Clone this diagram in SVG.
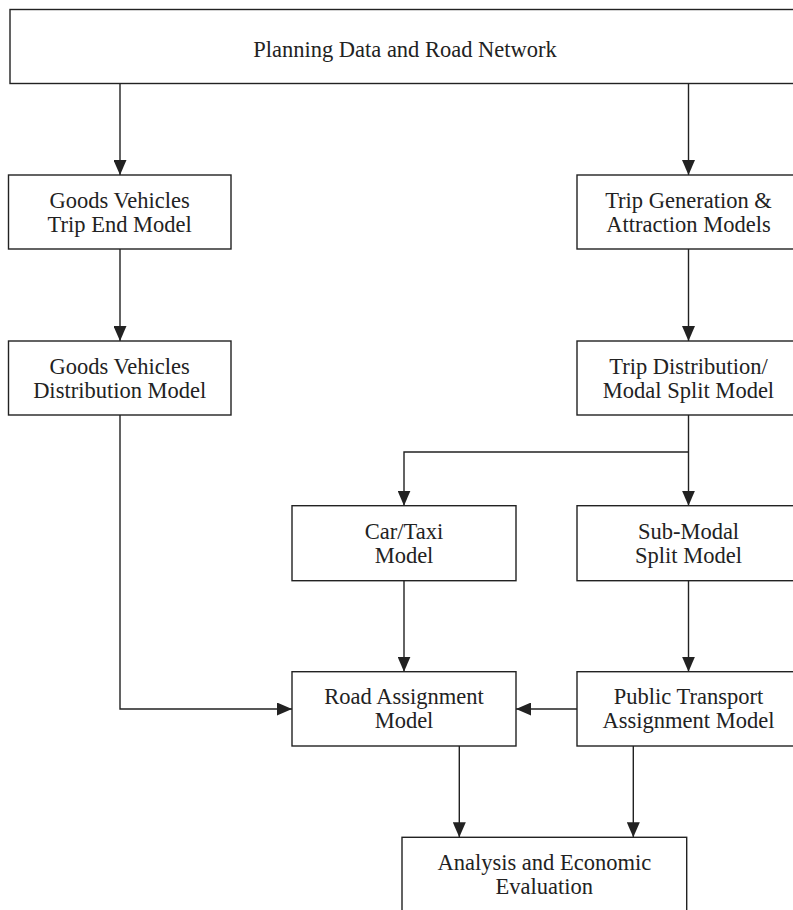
<svg xmlns="http://www.w3.org/2000/svg" width="793" height="910" viewBox="0 0 793 910">
<style>
.box{fill:#fff;stroke:#222;stroke-width:1.4}
.t{font-family:"Liberation Serif","Times New Roman",serif;font-size:22.5px;fill:#222;text-anchor:middle}
.c{fill:none;stroke:#222;stroke-width:1.4}
</style>
<defs>
<marker id="ah" viewBox="0 0 15 13" refX="15" refY="6.5" markerWidth="15" markerHeight="13" markerUnits="userSpaceOnUse" orient="auto">
<path d="M0,0 L15,6.5 L0,13 z" fill="#222"/>
</marker>
</defs>
<rect width="793" height="910" fill="#fff"/>
<g id="connectors">
<path class="c" d="M120,84 V175" marker-end="url(#ah)"/>
<path class="c" d="M688.5,84 V175" marker-end="url(#ah)"/>
<path class="c" d="M120,249 V341" marker-end="url(#ah)"/>
<path class="c" d="M688.5,249 V341" marker-end="url(#ah)"/>
<path class="c" d="M688.5,415 V505.7" marker-end="url(#ah)"/>
<path class="c" d="M688.5,452 H404 V505.7" marker-end="url(#ah)"/>
<path class="c" d="M404,580.7 V671.7" marker-end="url(#ah)"/>
<path class="c" d="M688.5,580.7 V671.7" marker-end="url(#ah)"/>
<path class="c" d="M577,709 H516" marker-end="url(#ah)"/>
<path class="c" d="M120,415 V709 H292" marker-end="url(#ah)"/>
<path class="c" d="M459.3,746 V837.3" marker-end="url(#ah)"/>
<path class="c" d="M633.3,746 V837.3" marker-end="url(#ah)"/>
</g>
<g id="planning">
<rect class="box" x="10" y="9.5" width="790" height="74"/>
<text class="t" x="405" y="56.5">Planning Data and Road Network</text>
</g>
<g id="goods-trip-end">
<rect class="box" x="8.5" y="175" width="222.5" height="74"/>
<text class="t" x="119.7" y="207.5">Goods Vehicles</text>
<text class="t" x="119.7" y="231.5">Trip End Model</text>
</g>
<g id="goods-distribution">
<rect class="box" x="8.5" y="341" width="222.5" height="74"/>
<text class="t" x="119.7" y="373.5">Goods Vehicles</text>
<text class="t" x="119.7" y="397.5">Distribution Model</text>
</g>
<g id="trip-generation">
<rect class="box" x="577" y="175" width="223" height="74"/>
<text class="t" x="688.5" y="207.5">Trip Generation &amp;</text>
<text class="t" x="688.5" y="231.5">Attraction Models</text>
</g>
<g id="trip-distribution">
<rect class="box" x="577" y="341" width="223" height="74"/>
<text class="t" x="688.5" y="373.5">Trip Distribution/</text>
<text class="t" x="688.5" y="397.5">Modal Split Model</text>
</g>
<g id="car-taxi">
<rect class="box" x="292" y="505.7" width="224" height="75"/>
<text class="t" x="404" y="538.5">Car/Taxi</text>
<text class="t" x="404" y="562.5">Model</text>
</g>
<g id="sub-modal">
<rect class="box" x="577" y="505.7" width="223" height="75"/>
<text class="t" x="688.5" y="538.5">Sub-Modal</text>
<text class="t" x="688.5" y="562.5">Split Model</text>
</g>
<g id="road-assignment">
<rect class="box" x="292" y="671.7" width="224" height="74.3"/>
<text class="t" x="404" y="704">Road Assignment</text>
<text class="t" x="404" y="728">Model</text>
</g>
<g id="public-transport">
<rect class="box" x="577" y="671.7" width="223" height="74.3"/>
<text class="t" x="688.5" y="704">Public Transport</text>
<text class="t" x="688.5" y="728">Assignment Model</text>
</g>
<g id="analysis">
<rect class="box" x="402" y="837.3" width="284.7" height="100"/>
<text class="t" x="544.3" y="870">Analysis and Economic</text>
<text class="t" x="544.3" y="894">Evaluation</text>
</g>
</svg>
